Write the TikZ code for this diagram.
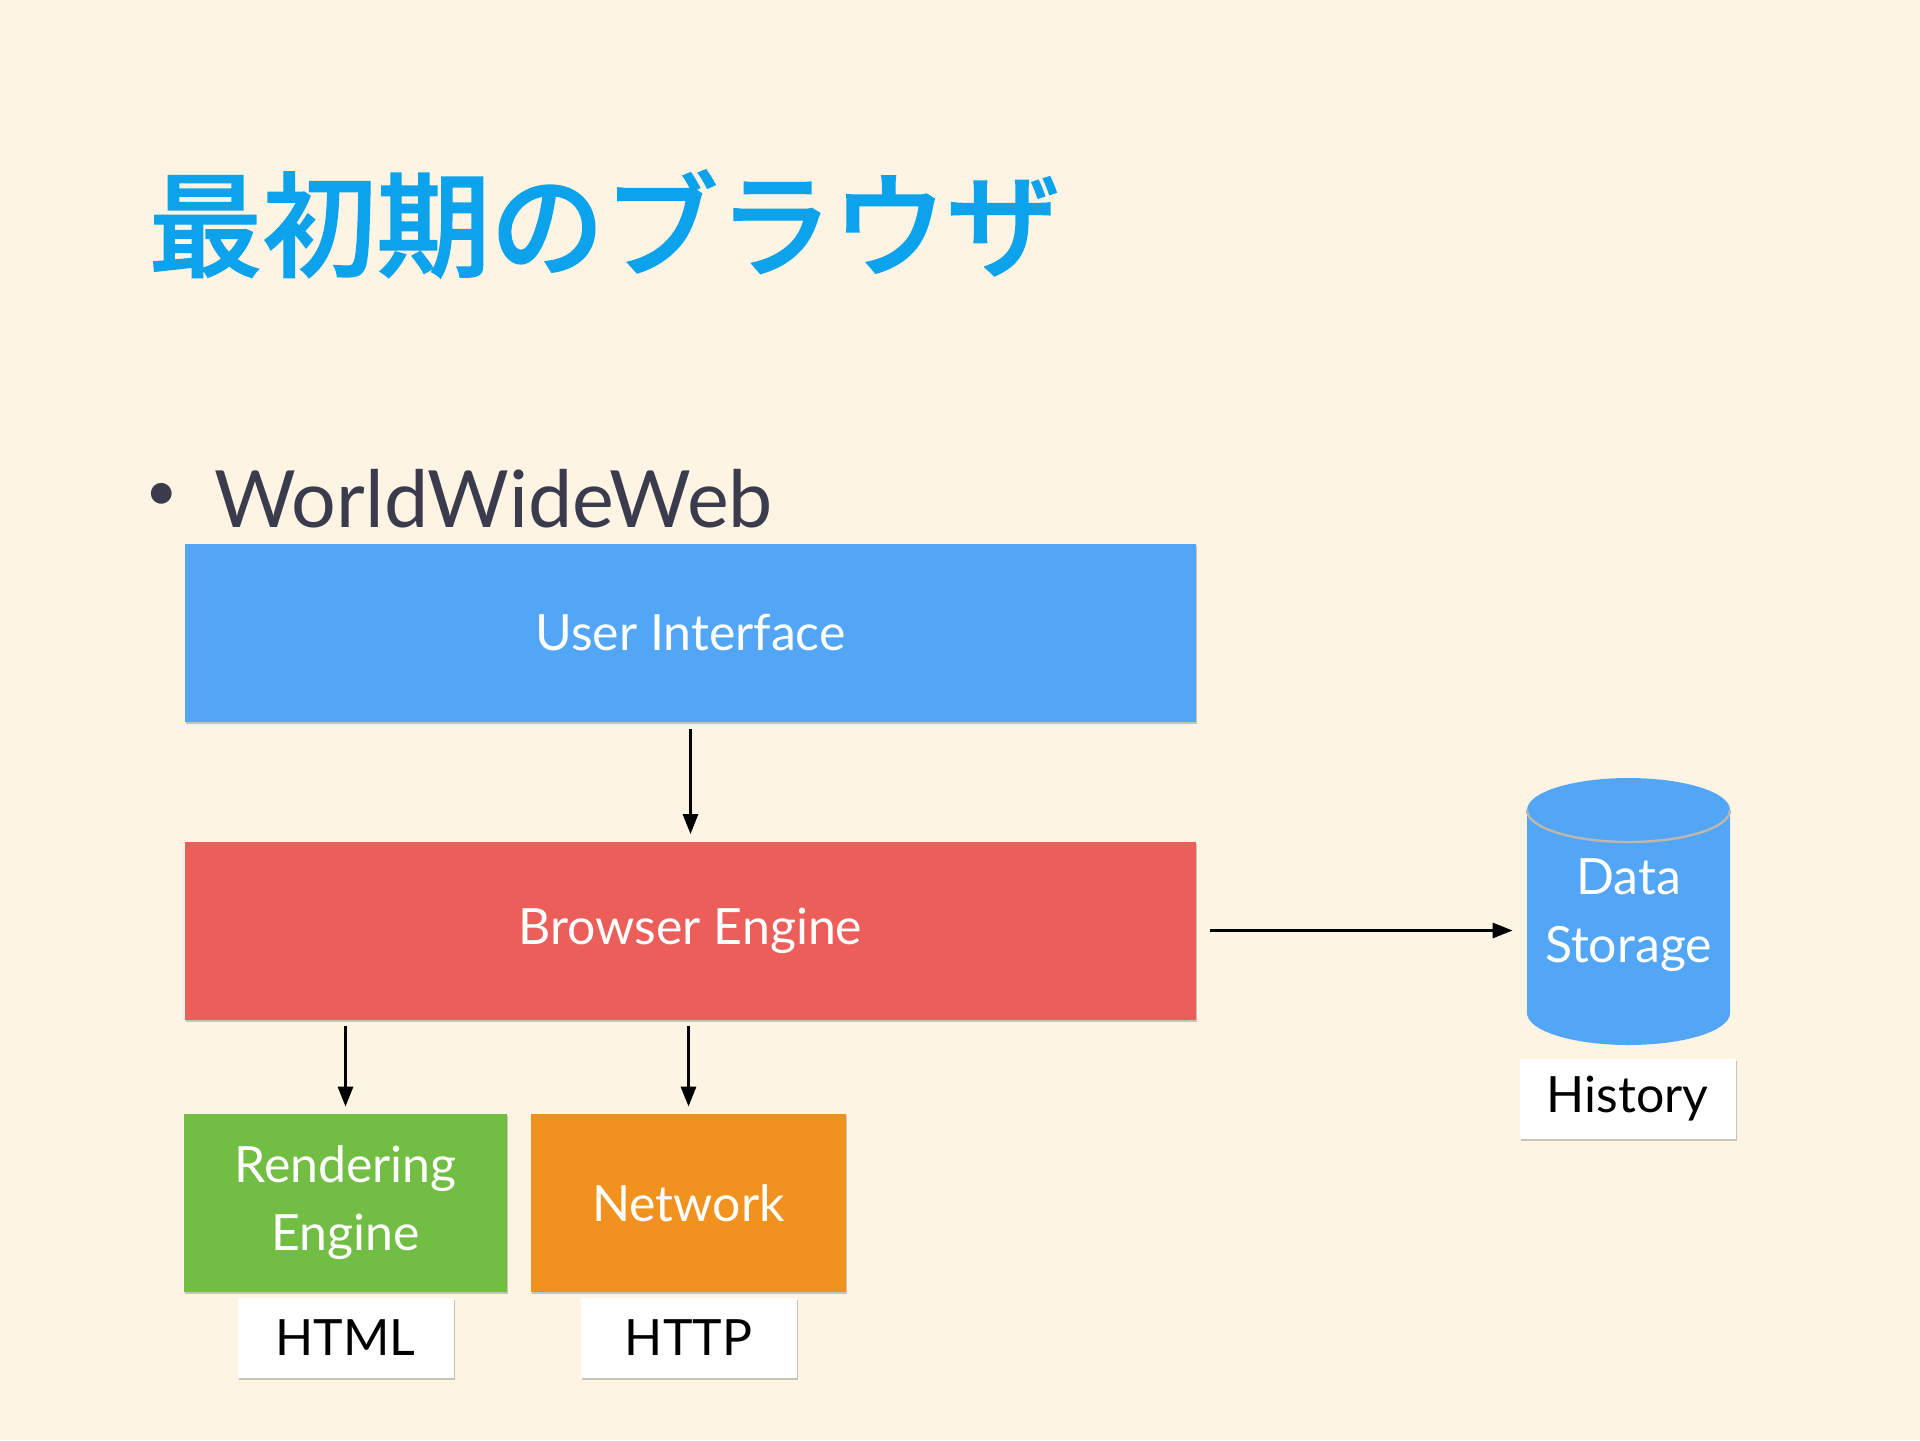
\documentclass[tikz,border=0pt]{standalone}
\usepackage{fontspec}
\setmainfont{Lato}
\newfontfamily\jpfont[FakeBold = 1.2]{Noto Sans CJK JP Medium}
\usetikzlibrary{shadows, arrows.meta}
\definecolor{bgcream}{HTML}{FDF4E3}
\definecolor{titleblue}{HTML}{0DA2EC}
\definecolor{inkgray}{HTML}{3B3B4E}
\definecolor{uiblue}{HTML}{53A6F5}
\definecolor{bered}{HTML}{EB5E59}
\definecolor{regreen}{HTML}{72BD44}
\definecolor{netorange}{HTML}{F0921D}
\definecolor{rimgray}{HTML}{BDB8AE}

\begin{document}
\begin{tikzpicture}[x = 0.5pt, y = -0.5pt,
  box/.style = {minimum width = #1, minimum height = 89pt, inner sep = 0pt, text = white, align = center, font = \fontsize{25}{34}\selectfont, drop shadow = {shadow xshift = 0.6pt, shadow yshift = -1.2pt, opacity = 0.35, fill = black!60}},
  tag/.style = {fill = white, minimum width = 108pt, minimum height = 40pt, inner sep = 0pt, font = \fontsize{25}{30}\selectfont, drop shadow = {shadow xshift = 0.6pt, shadow yshift = -1.2pt, opacity = 0.35, fill = black!60}},
  link/.style = {line width = 1.5pt, -{Triangle[length = 10pt, width = 7.5pt]}}]
\fill[bgcream] (0,0) rectangle (1920,1440);
\node[anchor = base west, inner sep = 0pt, text = titleblue, font = \jpfont\fontsize{57}{57}\selectfont] (title) at (148,268) {最初期のブラウザ};
\node[inner sep = 0pt, text = inkgray, font = \fontsize{28}{28}\selectfont] (dot) at (162,497) {\textbullet};
\node[anchor = base west, inner sep = 0pt, text = inkgray, font = \fontsize{39.5}{40}\selectfont] (item) at (214,527) {WorldWideWeb};
\node[box = 505.5pt, fill = uiblue] (ui) at (690.5,633) {User Interface};
\node[box = 505.5pt, fill = bered] (be) at (690.5,930.5) {Browser Engine};
\node[box = 161.5pt, fill = regreen] (render) at (345.5,1203) {Rendering\\Engine};
\node[box = 157.5pt, fill = netorange] (net) at (688.5,1203) {Network};
\node[tag] (html) at (345.5,1338) {HTML};
\node[tag] (http) at (688.5,1338) {HTTP};
\fill[uiblue] (1527,810) -- (1527,1013) arc[start angle = 180, end angle = 360, x radius = 50.75pt, y radius = 16pt] -- (1730,810) -- cycle;
\fill[uiblue] (1628.5,810) ellipse[x radius = 50.75pt, y radius = 16pt];
\draw[rimgray, line width = 1.2pt] (1527,810) arc[start angle = 180, end angle = 360, x radius = 50.75pt, y radius = 16pt];
\node[minimum width = 101.5pt, minimum height = 133.5pt, inner sep = 0pt, text = white, align = center, font = \fontsize{25}{34}\selectfont] (store) at (1628.5,915) {Data\\Storage};
\node[tag] (hist) at (1627.5,1098.5) {History};
\draw[link, shorten <= 3.5pt, shorten >= 3.5pt] (ui) -- (be);
\draw[link, shorten <= 3pt, shorten >= 3.5pt] (be.south -| render.north) -- (render.north);
\draw[link, shorten <= 3pt, shorten >= 3.5pt] (be.south -| net.north) -- (net.north);
\draw[link, shorten <= 7pt, shorten >= 7pt] (be.east) -- (be.east -| store.west);
\end{tikzpicture}
\end{document}
